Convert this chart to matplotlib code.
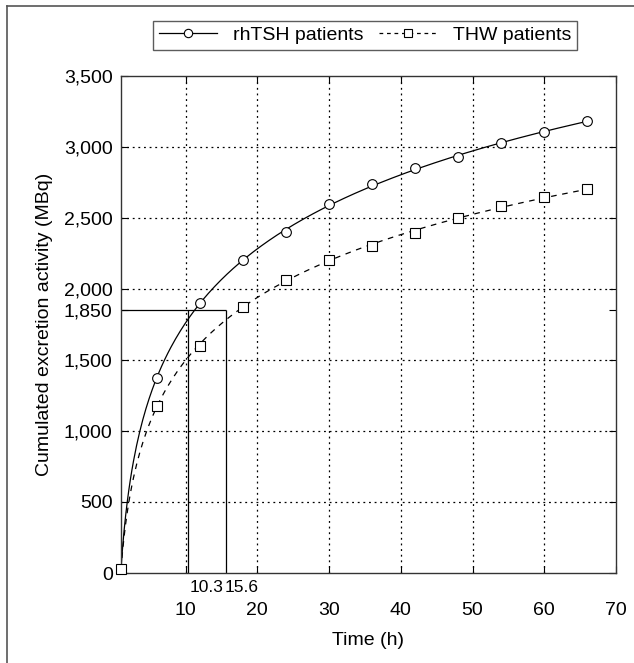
import numpy as np
import matplotlib
matplotlib.use("Agg")
import matplotlib.pyplot as plt
from matplotlib.lines import Line2D
from matplotlib.ticker import FuncFormatter

# sampling times (h) and cumulated excretion (MBq)
hours = [1, 6, 12, 18, 24, 30, 36, 42, 48, 54, 60, 66]
rhtsh = [30, 1375, 1900, 2205, 2400, 2600, 2740, 2855, 2930, 3025, 3105, 3180]
thw = [30, 1175, 1600, 1875, 2065, 2205, 2305, 2395, 2500, 2585, 2650, 2705]

threshold = 1850
cross_times = [10.3, 15.6]
y_ticks = [0, 500, 1000, 1500, 1850, 2000, 2500, 3000, 3500]
x_ticks = [10, 20, 30, 40, 50, 60, 70]

plt.rcParams['font.family'] = ['Liberation Sans', 'DejaVu Sans']
plt.rcParams['font.size'] = 14

fig = plt.figure(figsize=(6.34, 6.63), dpi=100)
ax = fig.add_axes([121 / 634, 1 - 573 / 663, 495 / 634, 497 / 663])

t = np.array(hours, dtype=float)
tt = np.linspace(t[0], t[-1], 300)

# logarithmic trend lines fitted to the measured points
for vals, ls, mk in [(rhtsh, '-', 'o'), (thw, (0, (4.5, 4.5)), 's')]:
    k, c = np.polyfit(np.log(t), vals, 1)
    ax.plot(tt, k * np.log(tt) + c, color='black', lw=0.9, linestyle=ls)
    ax.plot(t, vals, linestyle='none', marker=mk, markersize=7 if mk == 'o' else 6.5,
            markerfacecolor='white', markeredgecolor='black', markeredgewidth=0.8,
            clip_on=False, zorder=3)

# 1850 MBq threshold and crossing times
ax.hlines(threshold, 1, cross_times[1], color='black', lw=0.9)
ax.vlines(cross_times, 0, threshold, color='black', lw=0.9)
for ct, dx in zip(cross_times, [1.5, -0.5]):
    ax.annotate(str(ct), xy=(ct, 0), xycoords=('data', 'axes fraction'),
                xytext=(dx, -5), textcoords='offset points',
                ha='left', va='top', fontsize=12.5)

ax.set_xlim(1, 70)
ax.set_ylim(0, 3500)
ax.set_yticks(y_ticks)
ax.yaxis.set_major_formatter(FuncFormatter(lambda v, p: f"{int(v):,}"))
ax.set_xticks(x_ticks)
ax.tick_params(axis='x', direction='in', length=5, pad=21, top=True)
ax.tick_params(axis='y', direction='in', length=5, right=True, pad=6)

ax.grid(True, color='black', linestyle=(0, (1.5, 3)), lw=0.9)
for i, v in enumerate(y_ticks):
    if v in (0, threshold, 3500):
        ax.yaxis.get_gridlines()[i].set_visible(False)
ax.xaxis.get_gridlines()[-1].set_visible(False)

for sp in ax.spines.values():
    sp.set_color('#333333')
    sp.set_linewidth(1.0)

ax.set_xlabel("Time (h)", labelpad=9)
ax.set_ylabel("Cumulated excretion activity (MBq)", labelpad=8)

handles = [
    Line2D([], [], color='black', lw=0.9, marker='o', markersize=6,
           markerfacecolor='white', markeredgewidth=0.8),
    Line2D([], [], color='black', lw=0.9, linestyle=(0, (3, 3)), marker='s', markersize=5.5,
           markerfacecolor='white', markeredgewidth=0.8),
]
leg = fig.legend(handles, ["rhTSH patients", "THW patients"], ncol=2,
                 bbox_to_anchor=(153 / 634, 1 - 50 / 663, 424 / 634, 27 / 663),
                 mode='expand', loc='lower left', borderaxespad=0, fancybox=False,
                 handlelength=3.0, columnspacing=4, borderpad=0.3)
leg.get_frame().set_edgecolor('#333333')
leg.get_frame().set_linewidth(1.0)

# outer frame of the figure panel
fig.add_artist(Line2D([7 / 634, 7 / 634], [0, 1 - 6 / 663], transform=fig.transFigure,
                      color='#555555', lw=1.2))
fig.add_artist(Line2D([7 / 634, 1], [1 - 6 / 663, 1 - 6 / 663], transform=fig.transFigure,
                      color='#555555', lw=1.2))

fig.savefig("out.png", dpi=100)
